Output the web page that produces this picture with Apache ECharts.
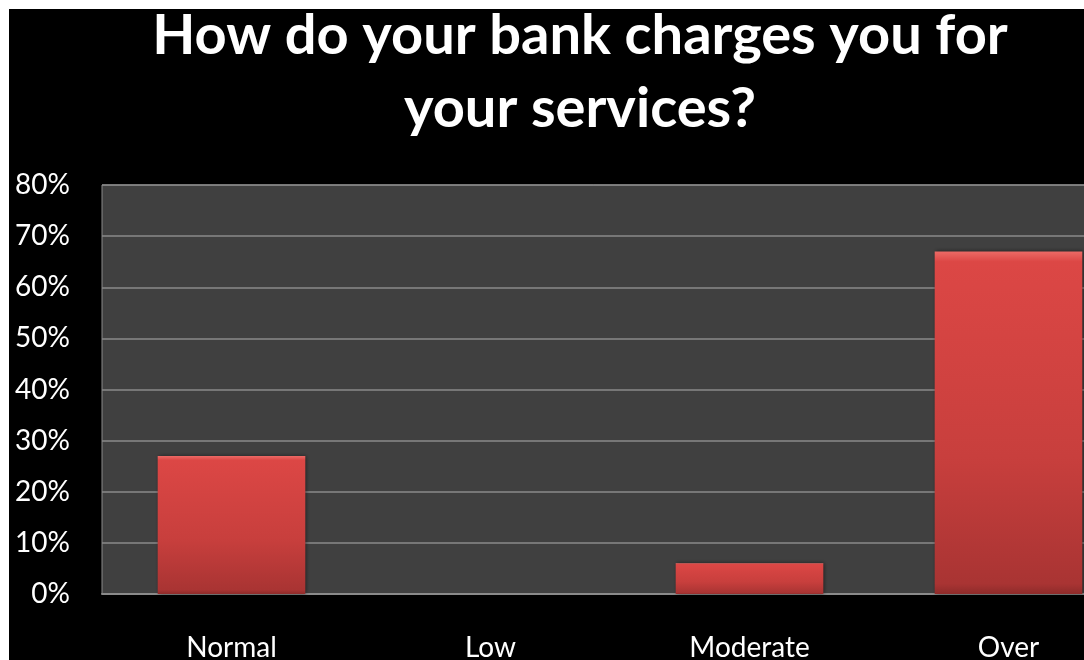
<!DOCTYPE html>
<html>
<head>
<meta charset="utf-8">
<script src="https://cdn.jsdelivr.net/npm/echarts@6/dist/echarts.min.js"></script>
<style>
  html, body { margin: 0; padding: 0; background: #ffffff; width: 1084px; height: 660px; overflow: hidden; }
  #chart { position: absolute; left: 9px; top: 9px; width: 1075px; height: 651px; background: #000000; }
</style>
</head>
<body>
<div id="chart"></div>
<script>
// Survey answers: how respondents rate their bank's charges
const categories = ['Normal', 'Low', 'Moderate', 'Over'];
const shares = [27, 0, 6, 67];
const yTicks = { min: 0, max: 80, step: 10 };
const titleLines = ['How do your bank charges you for', 'your services?'];

const chart = echarts.init(document.getElementById('chart'), null, { renderer: 'canvas' });

const font = 'Lato, "Noto Sans", "Open Sans", sans-serif';

chart.setOption({
  backgroundColor: '#000000',
  animation: false,
  title: {
    text: titleLines.join('\n'),
    left: 566,
    top: -15,
    textAlign: 'center',
    textStyle: {
      color: '#ffffff',
      fontFamily: font,
      fontWeight: 'bold',
      fontSize: 56,
      lineHeight: 73
    }
  },
  grid: {
    left: 93,
    top: 176,
    width: 1036,
    height: 409,
    outerBoundsMode: 'none',
    show: true,
    backgroundColor: '#404040',
    borderColor: '#8a8a8a',
    borderWidth: 1,
    containLabel: false
  },
  xAxis: {
    type: 'category',
    data: categories,
    axisTick: { show: false },
    axisLine: { show: true, lineStyle: { color: '#8a8a8a', width: 2 } },
    axisLabel: {
      color: '#ffffff',
      fontFamily: font,
      fontSize: 28,
      margin: 40
    }
  },
  yAxis: {
    type: 'value',
    min: yTicks.min,
    max: yTicks.max,
    interval: yTicks.step,
    axisLine: { show: false },
    axisTick: { show: false },
    splitLine: { lineStyle: { color: '#8a8a8a', width: 1.5 } },
    axisLabel: {
      color: '#ffffff',
      fontFamily: font,
      fontSize: 28,
      margin: 32,
      formatter: '{value}%'
    }
  },
  series: [{
    type: 'bar',
    data: shares,
    barWidth: '57%',
    itemStyle: {
      color: new echarts.graphic.LinearGradient(0, 0, 0, 1, [
        { offset: 0, color: '#ec6a66' },
        { offset: 0.03, color: '#dc4745' },
        { offset: 0.6, color: '#c83f3d' },
        { offset: 0.97, color: '#a93433' },
        { offset: 1, color: '#8e2b2a' }
      ]),
      borderWidth: 0,
      shadowColor: 'rgba(0,0,0,0.5)',
      shadowBlur: 4,
      shadowOffsetX: 1,
      shadowOffsetY: 0
    }
  }]
});
</script>
</body>
</html>
